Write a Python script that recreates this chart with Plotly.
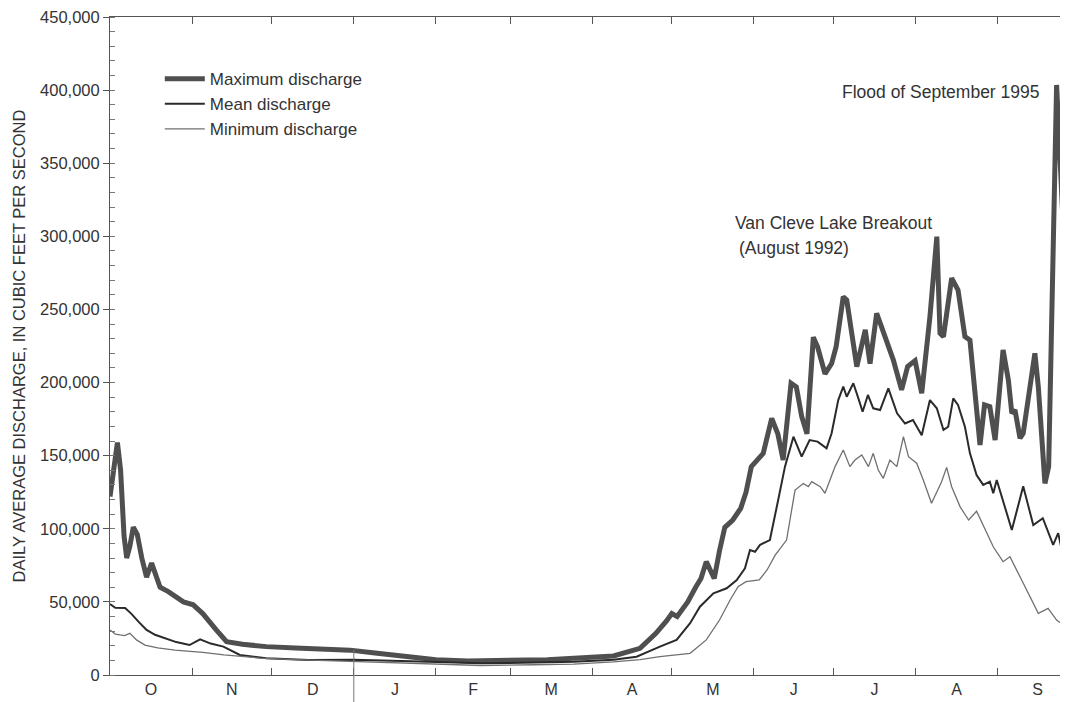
import plotly.graph_objects as go

# Water-year day (0 = Oct 1) and daily average discharge (cfs)
max_days = [0, 1.5, 2.8, 4, 5.3, 6.3, 7.5, 8.8, 10.3, 12, 13.8, 15.7, 17, 18.9, 22, 25, 27.7, 31.4, 35, 40, 44,
            50, 59, 70, 80, 90.6, 100, 110, 123, 135, 150, 165, 180, 190, 200, 206, 210, 212, 214, 218, 221, 223,
            225, 228, 230, 232, 235, 238, 240, 242, 246.5, 249.7, 252, 254, 257, 259, 261, 263, 265.4, 267, 269.8,
            272.3, 274, 276.7, 278, 280, 281.8, 285, 286.8, 289.3, 291.8, 295.6, 298.7, 301, 303.8, 306.3, 309.4,
            312, 313.2, 314.5, 317.6, 320, 322.6, 324.5, 328.3, 330, 332, 334, 337, 339, 340.3, 341.5, 343.4,
            344.6, 349, 350.3, 352.8, 354.2, 357.2, 359.6, 361.5]
max_cfs = [122000, 140000, 159000, 140000, 95000, 80000, 88000, 101000, 96000, 80000, 67000, 76500, 70000, 60000,
           57000, 53500, 50000, 48000, 42000, 31000, 22800, 21000, 19400, 18500, 18000, 17000, 15000, 13000, 10500,
           9500, 10000, 10500, 12000, 13000, 18200, 28500, 37000, 42000, 40000, 50000, 60000, 66000, 77500, 66000,
           85000, 101000, 106000, 114000, 125000, 142500, 151600, 175500, 165000, 147000, 199500, 197000, 176800,
           165000, 231000, 224500, 206000, 213000, 224500, 258700, 256500, 233700, 210900, 236000, 213000, 247400,
           233700, 215400, 195000, 211000, 215000, 192700, 245000, 299800, 233700, 231400, 271400, 263300, 231400,
           229000, 157300, 184700, 183500, 160700, 222300, 201700, 179000, 181200, 161900, 165300, 220000, 197000,
           131000, 142400, 403500, 311000, 215000]

mean_days = [0, 2, 5.7, 8, 11, 13.8, 17, 21.4, 25, 30, 34, 38, 42.8, 49, 59, 75, 92, 110, 123, 140, 160, 175, 190,
             198.7, 207.5, 213.8, 218.9, 222.6, 227.7, 232.7, 236.5, 239.6, 241.5, 243.4, 245.3, 249, 252, 254.7,
             257.9, 261, 264, 267, 270.4, 272.3, 274.8, 276.7, 278, 280.5, 282.4, 284, 286, 288, 290.6, 293.7, 297,
             300, 303, 306.3, 309.4, 312, 314.5, 316.3, 318.2, 320, 322.6, 324.5, 327, 329.5, 332, 333.3, 334.6,
             337.7, 340.3, 344.6, 348.4, 352, 355.9, 357.8, 360.4, 361.5]
mean_cfs = [48500, 46000, 45800, 42000, 36000, 30800, 27500, 25000, 22500, 20500, 24400, 21500, 19400, 13700, 11400,
            10300, 10500, 9500, 9000, 8000, 8500, 9000, 10500, 12500, 19400, 24000, 35400, 46700, 55900, 59300,
            65000, 73000, 85500, 84300, 89000, 92300, 118500, 142500, 163000, 149300, 160700, 159600, 155000,
            165300, 188000, 197200, 190300, 199500, 189200, 180000, 191500, 182400, 181200, 196000, 179000, 172000,
            174400, 164000, 188000, 182400, 167600, 169800, 189200, 184700, 169800, 151600, 136800, 130000, 132200,
            124300, 133400, 115000, 99200, 129000, 102600, 107200, 89000, 97000, 75200, 75000]

min_days = [0, 2, 3.8, 5.5, 7.5, 10, 13.2, 18, 24.5, 35, 43, 56.6, 70, 83, 100, 123, 140, 160, 175, 190, 200, 207.5,
            218.9, 225, 230, 234, 237, 240, 245, 248, 251, 255.3, 258.5, 261.6, 263.5, 264.8, 268, 269.8, 271.7,
            273.6, 276.7, 279.2, 281.1, 283.7, 286.2, 288, 289.9, 291.8, 294.3, 296.9, 299.4, 301.3, 304.4, 306.9,
            310, 313.8, 315.7, 317.6, 320.8, 324, 327, 329.5, 333.3, 337, 339.6, 343.4, 346.5, 350.3, 354, 357.2,
            361.5]
min_cfs = [30800, 28000, 27400, 27000, 28500, 24000, 20500, 18500, 17000, 15500, 13700, 11600, 10500, 9800, 9000,
           7500, 6500, 7000, 7500, 9000, 10500, 12500, 14800, 24000, 37600, 51300, 60400, 63800, 65000, 72000,
           82000, 92300, 126500, 131000, 128800, 132200, 128800, 124300, 133400, 142500, 153900, 142500, 147000,
           150500, 142500, 151600, 140200, 134500, 147000, 142500, 163000, 149300, 144800, 133400, 117500, 132200,
           142000, 128800, 115000, 106000, 112000, 102600, 87700, 77500, 80900, 67200, 55900, 42200, 45600, 37600,
           31900]

month_mid = [15.5, 46, 76.5, 107.5, 137, 166.5, 197, 227.5, 258, 288.5, 319.5, 350]
month_labels = ["O", "N", "D", "J", "F", "M", "A", "M", "J", "J", "A", "S"]
month_bounds = [31, 61, 92, 123, 151, 182, 212, 243, 273, 304, 335]
year_boundary = 92

FONT = "Liberation Sans, Arial, Helvetica, sans-serif"
TXT = "#333333"

fig = go.Figure()
fig.add_trace(go.Scatter(x=max_days, y=max_cfs, mode="lines", name="Maximum discharge",
                         line=dict(color="#4f4f4f", width=5)))
fig.add_trace(go.Scatter(x=mean_days, y=mean_cfs, mode="lines", name="Mean discharge",
                         line=dict(color="#2a2a2a", width=2)))
fig.add_trace(go.Scatter(x=min_days, y=min_cfs, mode="lines", name="Minimum discharge",
                         line=dict(color="#707070", width=1.3)))

# the page body adds an 8px offset, so the figure is sized to fill the window from there
fig.update_layout(
    width=1060, height=694,
    margin=dict(l=102, r=0, t=9, b=27, autoexpand=False),
    paper_bgcolor="white", plot_bgcolor="white",
    font=dict(family=FONT, color=TXT, size=16),
    showlegend=True,
    legend=dict(x=0.052, y=0.933, xanchor="left", yanchor="top", bgcolor="rgba(0,0,0,0)",
                font=dict(size=17, family=FONT, color=TXT), itemwidth=40, tracegroupgap=0),
)

fig.update_xaxes(
    range=[0, 361.5], showgrid=False, zeroline=False, automargin=False,
    showline=True, linecolor="#555555", linewidth=1, mirror="ticks",
    tickmode="array", tickvals=month_mid, ticktext=month_labels, ticks="", ticklen=0,
    ticklabelstandoff=0, ticklabeloverflow="allow", tickfont=dict(size=16, family=FONT, color=TXT),
    minor=dict(tickmode="array", tickvals=month_bounds, ticks="inside", ticklen=7,
               tickcolor="#555555", tickwidth=1, showgrid=False),
)

fig.update_yaxes(
    range=[0, 450000], showgrid=False, zeroline=False, automargin=False,
    showline=True, linecolor="#555555", linewidth=1, mirror="ticks",
    tickmode="array", tickvals=list(range(0, 450001, 50000)), tickformat=",d",
    ticks="outside", ticklen=6, tickcolor="#555555", ticklabeloverflow="allow",
    tickfont=dict(size=16.5, family=FONT, color=TXT),
    minor=dict(dtick=10000, ticks="inside", ticklen=5, tickcolor="#777777", showgrid=False),
    title=dict(text="DAILY AVERAGE DISCHARGE, IN CUBIC FEET PER SECOND",
               font=dict(size=16.5, family=FONT, color=TXT), standoff=10),
)

fig.add_shape(type="line", xref="x", yref="paper", x0=year_boundary, x1=year_boundary,
              y0=0.038, y1=-0.045, line=dict(color="#777777", width=1))

fig.add_annotation(x=351.7, y=398700, xref="x", yref="y", text="Flood of September 1995",
                   showarrow=False, xanchor="right", yanchor="middle",
                   font=dict(size=17.5, family=FONT, color=TXT))
fig.add_annotation(x=235.1, y=309000, xref="x", yref="y", text="Van Cleve Lake Breakout",
                   showarrow=False, xanchor="left", yanchor="middle",
                   font=dict(size=17.5, family=FONT, color=TXT))
fig.add_annotation(x=236.6, y=292000, xref="x", yref="y", text="(August 1992)",
                   showarrow=False, xanchor="left", yanchor="middle",
                   font=dict(size=17.5, family=FONT, color=TXT))

fig.write_html("out.html")
